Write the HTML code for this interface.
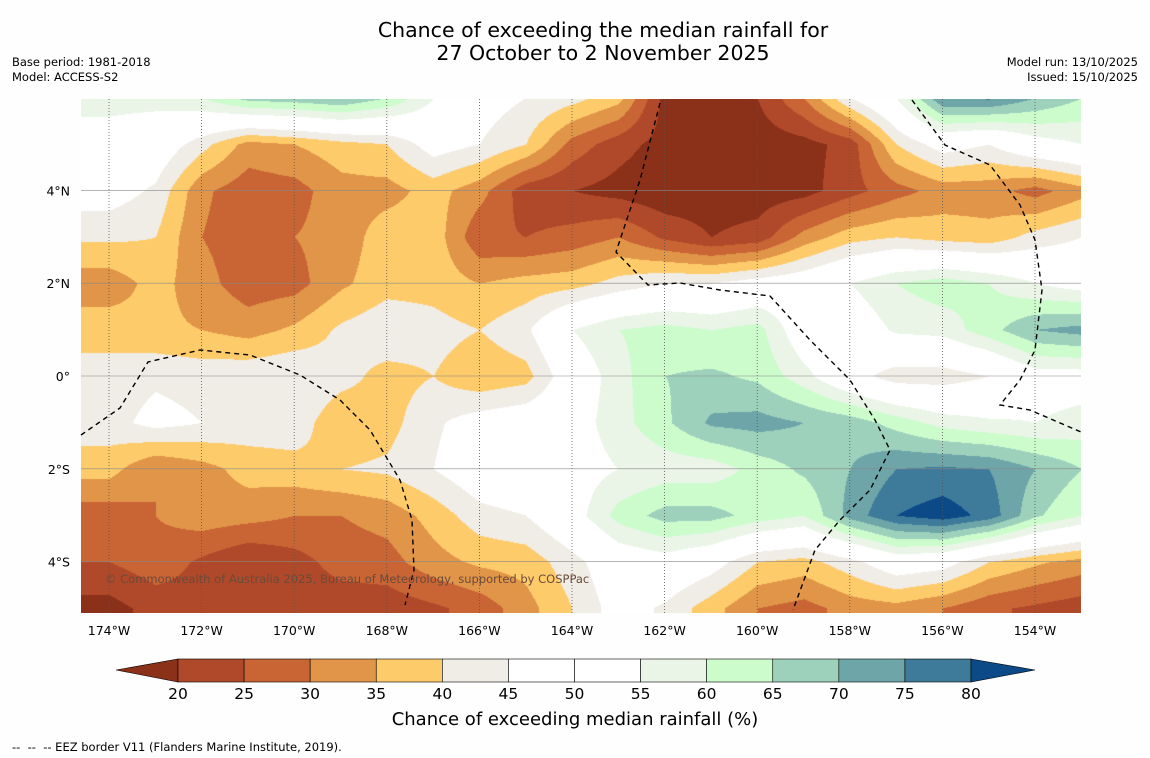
<!DOCTYPE html>
<html><head><meta charset="utf-8"><style>
body{margin:0;background:#fefefe;font-family:"DejaVu Sans","Liberation Sans",sans-serif;}
#wrap{position:relative;width:1150px;height:758px;overflow:hidden;background:#fefefe;}
.t{position:absolute;color:#000;white-space:nowrap;}
</style></head><body>
<div id="wrap">
<div class="t" style="left:0;width:1206px;top:19px;text-align:center;font-size:20.5px;line-height:23px;">Chance of exceeding the median rainfall for<br>27 October to 2 November 2025</div>
<div class="t" style="left:12px;top:55px;font-size:11.5px;line-height:15px;">Base period: 1981-2018<br>Model: ACCESS-S2</div>
<div class="t" style="right:12px;top:55px;font-size:11.5px;line-height:15px;text-align:right;">Model run: 13/10/2025<br>Issued: 15/10/2025</div>
<canvas id="map" width="1000" height="514" style="position:absolute;left:81px;top:99px;"></canvas>
<svg id="ov" width="1150" height="758" style="position:absolute;left:0;top:0;"></svg>
<div class="t" style="left:105px;top:572px;font-size:11.5px;color:#6b4a3a;">© Commonwealth of Australia 2025, Bureau of Meteorology, supported by COSPPac</div>
<div class="t" style="left:0;width:1150px;top:709px;text-align:center;font-size:18px;">Chance of exceeding median rainfall (%)</div>
<div class="t" style="left:12px;top:740px;font-size:11.5px;">--&nbsp; --&nbsp; -- EEZ border V11 (Flanders Marine Institute, 2019).</div>
</div>
<script>
const lonTicks=[174,172,170,168,166,164,162,160,158,156,154];
const latTicks=[4,2,0,-2,-4];
const gridLons=[174,173,172,171,170,169,168,167,166,165,164,163,162,161,160,159,158,157,156,155,154,153];
const gridLats=[6,5,4,3,2,1,0,-1,-2,-3,-4,-5];
const row6N=[57,57,60,67,68,70,65,55,48,45,42,37,18,17,20,30,45,55,75,76,70,65];
const row5N=[52,50,42,33,35,38,40,48,45,40,28,22,18,17,17,18,22,40,48,45,52,55];
const row4N=[48,44,31,27,28,33,33,37,32,22,20,18,16,17,17,18,23,28,32,32,28,33];
const row3N=[41,40,30,27,30,32,38,38,26,25,27,30,24,20,22,32,38,40,38,37,42,45];
const row2N=[32,37,32,27,28,34,38,38,35,37,38,42,45,45,48,50,55,60,63,60,55,52];
const row1N=[38,36,35,33,36,41,44,42,40,44,55,60,62,60,62,50,50,56,57,63,70,72];
const row0=[42,44,43,44,45,42,38,40,36,38,50,58,65,66,64,57,48,42,42,45,52,52];
const row1S=[43,47,45,43,43,36,38,44,48,50,52,58,64,71,72,70,68,63,58,56,55,57];
const row2S=[37,30,33,37,38,40,41,45,50,52,52,55,57,57,62,66,70,75,76,75,70,65];
const row3S=[27,30,33,32,30,30,32,37,43,45,52,62,67,67,63,60,72,80,83,78,66,60];
const row4S=[25,28,24,20,23,27,28,33,36,37,43,50,52,48,40,38,43,50,48,40,36,33];
const row5S=[18,22,23,20,22,22,22,24,27,33,40,48,44,37,30,28,32,33,30,26,24,22];
const grid=[row6N,row5N,row4N,row3N,row2N,row1N,row0,row1S,row2S,row3S,row4S,row5S];
const bandEdges=[20,25,30,35,40,45,50,55,60,65,70,75,80];
const bandColors=["#8b3019","#b0492a","#c96434","#e09548","#fecb6a","#f0ece6","#ffffff","#ffffff","#eaf5e8","#cdfccc","#9dd1bc","#6ea5a8","#3e7a9a","#0b4a87"];
const X=lon=>109+(174-lon)*46.3;
const Y=lat=>376-lat*46.4;
function hex(c){return [parseInt(c.substr(1,2),16),parseInt(c.substr(3,2),16),parseInt(c.substr(5,2),16)];}
const rgb=bandColors.map(hex);
function band(v){let i=0;while(i<bandEdges.length&&v>=bandEdges[i])i++;return i;}
const cv=document.getElementById('map');const ctx=cv.getContext('2d');
const img=ctx.createImageData(1000,514);
const x0=X(gridLons[0]),dx=X(gridLons[1])-x0,y0=Y(gridLats[0]),dy=Y(gridLats[1])-y0;
for(let py=0;py<514;py++){
 let fy=(py+99-y0)/dy;fy=Math.max(0,Math.min(gridLats.length-1.0001,fy));
 const j=Math.floor(fy),ty=fy-j;
 for(let px=0;px<1000;px++){
  let fx=(px+81-x0)/dx;fx=Math.max(0,Math.min(gridLons.length-1.0001,fx));
  const i=Math.floor(fx),tx=fx-i;
  const v=(grid[j][i]*(1-tx)+grid[j][i+1]*tx)*(1-ty)+(grid[j+1][i]*(1-tx)+grid[j+1][i+1]*tx)*ty;
  const c=rgb[band(v)];const k=(py*1000+px)*4;
  img.data[k]=c[0];img.data[k+1]=c[1];img.data[k+2]=c[2];img.data[k+3]=255;
 }
}
ctx.putImageData(img,0,0);
const NS='http://www.w3.org/2000/svg';
const ov=document.getElementById('ov');
function el(t,a){const e=document.createElementNS(NS,t);for(const k in a)e.setAttribute(k,a[k]);ov.appendChild(e);return e;}
const FF='DejaVu Sans, Liberation Sans, sans-serif';
lonTicks.forEach(l=>{
 const g=el('line',{x1:X(l),x2:X(l),y1:99,y2:613,stroke:'#555','stroke-width':0.8,'stroke-dasharray':'1,2'});
 
 
 const t=el('text',{x:X(l),y:635,'font-size':12.5,'text-anchor':'middle','font-family':FF});
 t.textContent=l+'°W';
 
 
});
latTicks.forEach(l=>{
 const g=el('line',{x1:81,x2:1081,y1:Y(l),y2:Y(l),stroke:'#888','stroke-width':0.6});
 
 
 const t=el('text',{x:70,y:Y(l)+5,'font-size':12.5,'text-anchor':'end','font-family':FF});
 t.textContent=l===0?'0°':(Math.abs(l)+'°'+(l>0?'N':'S'));
 
 
});
const eez=[
 "81,435 120,408 148,362 200,350 250,355 300,375 340,400 370,430 400,480 412,520 414,570 405,605",
 "660,103 640,180 616,252 648,285 680,283 720,290 770,296 810,340 850,380 875,420 890,450 870,490 840,520 815,550 793,610",
 "912,100 945,145 990,165 1020,205 1035,240 1042,290 1035,350 1020,380 1000,405 1030,410 1081,432"];
eez.forEach(p=>{
 const e=el('polyline',{points:p,fill:'none',stroke:'#000','stroke-width':1.4,'stroke-dasharray':'5,4'});
 
 
});
const cbX=v=>178+(v-20)*(971-178)/60;
const lo=el('polygon',{points:`116,670 178,659 178,682`,fill:bandColors[0],stroke:'#000','stroke-width':0.6});


for(let i=0;i<bandEdges.length-1;i++){
 const r=el('rect',{x:cbX(bandEdges[i]),y:659,width:cbX(bandEdges[i+1])-cbX(bandEdges[i]),height:23,fill:bandColors[i+1],stroke:'#000','stroke-width':0.6});
 
 
}
const hi=el('polygon',{points:`971,659 1035,670 971,682`,fill:bandColors[13],stroke:'#000','stroke-width':0.6});


bandEdges.forEach(v=>{
 const t=el('text',{x:cbX(v),y:699,'font-size':15.5,'text-anchor':'middle','font-family':FF});
 t.textContent=v;
 
 
});
</script>
</body></html>
